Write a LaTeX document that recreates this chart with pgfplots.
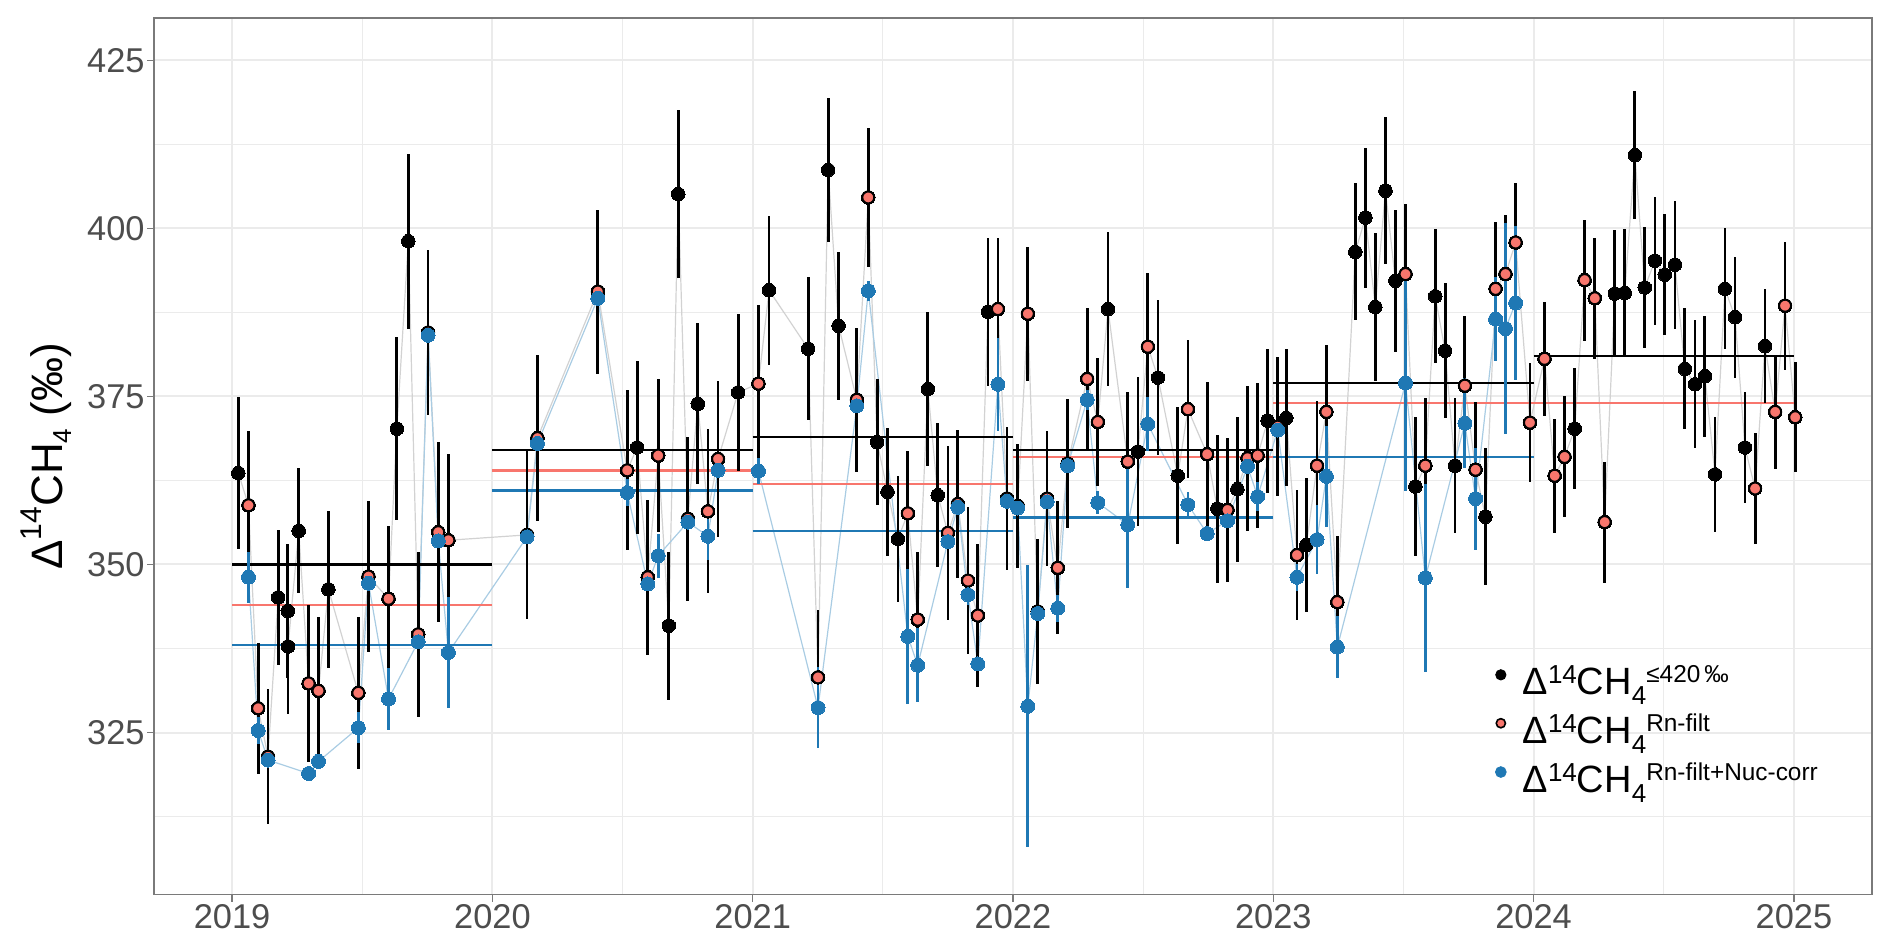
\documentclass[border=0pt]{standalone}
\usepackage{fontspec}
\setmainfont{Liberation Sans}
\usepackage{pgfplots}
\pgfplotsset{compat=1.18}
\usepackage{pgfplotstable}

\definecolor{rnred}{HTML}{F8766D}
\definecolor{nucblue}{HTML}{1F78B4}
\definecolor{nucline}{HTML}{A9CCE3}
\definecolor{conn}{HTML}{D2D2D2}
\definecolor{gridc}{HTML}{EBEBEB}
\definecolor{tickc}{HTML}{4D4D4D}
\definecolor{framec}{HTML}{7A7A7A}

\newcommand{\lgbase}{Δ\raisebox{5.5bp}{\fontsize{13bp}{13bp}\selectfont 14}CH\raisebox{-5bp}{\fontsize{13bp}{13bp}\selectfont 4}}
\newcommand{\lgsup}[1]{\raisebox{6bp}{\fontsize{12.2bp}{12.2bp}\selectfont #1}}

\pgfplotstableread{
x y e
2019.024 363.6 11.3
2019.063 358.8 11.1
2019.100 328.6 9.7
2019.138 321.4 10.0
2019.177 345.1 10.0
2019.214 343.1 10.0
2019.215 337.8 10.0
2019.256 355.0 9.3
2019.294 332.3 11.7
2019.332 331.2 11.0
2019.370 346.3 11.7
2019.485 330.9 11.3
2019.524 348.2 11.2
2019.601 344.9 10.8
2019.633 370.2 13.6
2019.677 398.1 13.0
2019.715 339.6 12.3
2019.753 384.5 12.3
2019.792 354.8 13.4
2019.831 353.6 12.9
2020.133 354.4 12.5
2020.173 368.8 12.3
2020.405 390.6 12.2
2020.518 364.0 11.9
2020.556 367.4 12.9
2020.597 348.1 11.5
2020.637 366.2 11.4
2020.678 340.9 11.0
2020.714 405.1 12.5
2020.751 356.8 12.2
2020.789 373.9 12.0
2020.828 357.9 12.2
2020.867 365.7 11.6
2020.944 375.6 11.7
2021.022 376.9 11.7
2021.063 390.8 11.1
2021.213 382.1 10.6
2021.251 333.2 10.0
2021.290 408.7 10.7
2021.330 385.5 11.0
2021.400 374.5 10.7
2021.444 404.6 10.3
2021.478 368.2 9.4
2021.518 360.8 9.5
2021.558 353.8 9.4
2021.596 357.6 9.3
2021.634 341.8 10.0
2021.673 376.1 11.4
2021.711 360.3 10.7
2021.750 354.7 12.9
2021.788 359.0 11.0
2021.827 347.6 10.9
2021.865 342.4 10.7
2021.904 387.6 11.0
2021.942 388.0 10.5
2021.977 359.8 10.6
2022.018 358.7 9.2
2022.057 387.3 10.0
2022.095 343.0 10.8
2022.131 359.8 10.0
2022.172 349.5 9.9
2022.210 365.0 9.6
2022.285 377.6 10.5
2022.326 371.2 9.5
2022.365 388.0 11.5
2022.441 365.3 10.3
2022.480 366.8 11.1
2022.518 382.4 11.0
2022.557 377.8 11.5
2022.633 363.2 10.2
2022.672 373.1 10.3
2022.746 366.4 10.8
2022.785 358.3 11.0
2022.824 358.1 10.7
2022.862 361.2 10.8
2022.901 365.8 10.8
2022.940 366.2 10.8
2022.978 371.4 10.7
2023.017 370.5 10.3
2023.050 371.8 10.2
2023.091 351.4 9.7
2023.127 352.9 10.0
2023.168 364.7 9.6
2023.204 372.7 10.0
2023.246 344.4 9.8
2023.315 396.5 10.2
2023.354 401.6 10.4
2023.392 388.3 11.0
2023.431 405.6 10.9
2023.469 392.2 10.6
2023.508 393.2 10.5
2023.546 361.6 10.3
2023.584 364.7 10.0
2023.622 389.9 10.0
2023.660 381.8 10.0
2023.698 364.7 10.0
2023.736 376.6 10.3
2023.777 364.1 10.0
2023.815 357.1 10.2
2023.854 391.0 9.9
2023.892 393.2 8.8
2023.931 397.9 8.8
2023.986 371.1 8.9
2024.042 380.6 8.5
2024.081 363.2 8.5
2024.119 366.0 9.0
2024.158 370.2 9.0
2024.196 392.3 9.0
2024.235 389.6 9.0
2024.273 356.3 9.0
2024.312 390.3 9.5
2024.350 390.4 9.5
2024.389 410.9 9.5
2024.427 391.2 9.0
2024.466 395.2 9.5
2024.504 393.1 9.0
2024.543 394.6 9.5
2024.581 379.1 9.0
2024.620 376.8 9.5
2024.658 378.0 9.0
2024.697 363.4 8.5
2024.735 391.0 9.0
2024.774 386.8 9.0
2024.812 367.4 8.3
2024.851 361.3 8.2
2024.889 382.5 8.5
2024.928 372.7 8.5
2024.966 388.5 9.5
2025.005 371.9 8.2
}\alltab

\pgfplotstableread{
x y
2019.063 358.8
2019.100 328.6
2019.138 321.4
2019.294 332.3
2019.332 331.2
2019.485 330.9
2019.524 348.2
2019.601 344.9
2019.715 339.6
2019.753 384.5
2019.792 354.8
2019.831 353.6
2020.133 354.4
2020.173 368.8
2020.405 390.6
2020.518 364.0
2020.597 348.1
2020.637 366.2
2020.751 356.8
2020.828 357.9
2020.867 365.7
2021.022 376.9
2021.251 333.2
2021.400 374.5
2021.444 404.6
2021.596 357.6
2021.634 341.8
2021.750 354.7
2021.788 359.0
2021.827 347.6
2021.865 342.4
2021.942 388.0
2021.977 359.8
2022.018 358.7
2022.057 387.3
2022.095 343.0
2022.131 359.8
2022.172 349.5
2022.210 365.0
2022.285 377.6
2022.326 371.2
2022.441 365.3
2022.518 382.4
2022.672 373.1
2022.746 366.4
2022.824 358.1
2022.901 365.8
2022.940 366.2
2023.017 370.5
2023.091 351.4
2023.168 364.7
2023.204 372.7
2023.246 344.4
2023.508 393.2
2023.584 364.7
2023.736 376.6
2023.777 364.1
2023.854 391.0
2023.892 393.2
2023.931 397.9
2023.986 371.1
2024.042 380.6
2024.081 363.2
2024.119 366.0
2024.196 392.3
2024.235 389.6
2024.273 356.3
2024.851 361.3
2024.928 372.7
2024.966 388.5
2025.005 371.9
}\rntab

\pgfplotstableread{
x y e
2019.063 348.1 3.8
2019.100 325.3 2.0
2019.138 320.9 1.0
2019.294 318.9 1.0
2019.332 320.7 1.0
2019.485 325.7 2.3
2019.524 347.2 1.0
2019.601 330.0 4.6
2019.715 338.5 1.0
2019.753 384.1 1.0
2019.792 353.5 1.0
2019.831 336.9 8.2
2020.133 354.1 1.0
2020.173 368.0 1.0
2020.405 389.6 1.0
2020.518 360.7 2.0
2020.597 347.1 1.0
2020.637 351.3 3.3
2020.751 356.3 1.0
2020.828 354.2 3.5
2020.867 364.0 1.0
2021.022 363.9 2.0
2021.251 328.7 6.0
2021.400 373.6 1.0
2021.444 390.7 1.5
2021.596 339.3 10.0
2021.634 335.0 5.5
2021.750 353.4 1.0
2021.788 358.5 1.0
2021.827 345.5 1.5
2021.865 335.2 1.0
2021.942 376.8 6.9
2021.977 359.4 1.0
2022.018 358.4 1.0
2022.057 328.9 21.0
2022.095 342.7 1.0
2022.131 359.3 1.0
2022.172 343.5 2.0
2022.210 364.7 1.0
2022.285 374.5 1.5
2022.326 359.2 1.7
2022.441 355.9 9.4
2022.518 370.9 4.0
2022.672 358.9 1.9
2022.746 354.6 1.0
2022.824 356.5 1.0
2022.901 364.6 1.0
2022.940 360.1 2.2
2023.017 370.0 1.0
2023.091 348.1 2.0
2023.168 353.7 5.1
2023.204 363.1 7.5
2023.246 337.7 4.6
2023.508 377.0 16.0
2023.584 348.0 14.0
2023.736 371.0 6.7
2023.777 359.8 7.6
2023.854 386.5 6.3
2023.892 385.1 15.7
2023.931 388.9 11.4
}\nuctab

\begin{document}
\begin{tikzpicture}
\useasboundingbox (-77bp,-27.25bp) rectangle (869bp,447.25bp);
\begin{axis}[
  at={(0,0)}, anchor=south west,
  scale only axis, width=859bp, height=438.25bp,
  xmin=2018.7, xmax=2025.3, ymin=300.9, ymax=431.3,
  xtick={2019,2020,2021,2022,2023,2024,2025},
  xticklabels={2019,2020,2021,2022,2023,2024,2025},
  ytick={325,350,375,400,425},
  yticklabels={325,350,375,400,425},
  minor xtick={2019.5,2020.5,2021.5,2022.5,2023.5,2024.5},
  minor ytick={312.5,337.5,362.5,387.5,412.5},
  grid=both,
  major grid style={draw=gridc, line width=1bp},
  minor grid style={draw=gridc, line width=0.5bp},
  axis line style={draw=framec, line width=0.8bp},
  tick pos=left, tick align=outside,
  major tick length=3.5bp, minor tick length=0pt,
  every tick/.style={draw=framec, line width=0.8bp},
  x tick label style={font=\fontsize{17.2bp}{20bp}\selectfont, text=tickc, inner sep=0pt, anchor=north, yshift=-1.4bp},
  y tick label style={font=\fontsize{17.2bp}{20bp}\selectfont, text=tickc, inner sep=0pt, anchor=east, xshift=-1bp},
  every axis y label/.style={at={(axis description cs:-0.078,0.5)}, rotate=90, anchor=north, inner sep=0pt, font=\fontsize{22bp}{26bp}\selectfont},
  ylabel={Δ\raisebox{10.8bp}{\fontsize{15bp}{15bp}\selectfont 14}CH\raisebox{-4.2bp}{\fontsize{13bp}{13bp}\selectfont 4} (‰)},
  legend style={at={(axis description cs:0.7806,0.257)}, anchor=north west, draw=none, fill=none, inner sep=0pt, outer sep=0pt, row sep=6bp, column sep=8bp, nodes={inner sep=0pt, text height=12.5bp, text depth=5.5bp}, font=\fontsize{19bp}{22bp}\selectfont},
  legend cell align=left,
]
% connecting lines
\addplot[forget plot, draw=conn, line width=0.6bp, mark=none] table[x=x,y=y]{\alltab};
\addplot[forget plot, draw=nucline, line width=0.6bp, mark=none] table[x=x,y=y]{\nuctab};
% yearly means
\addplot[forget plot, black, line width=1.2bp] coordinates {(2019,350) (2020,350)};
\addplot[forget plot, black, line width=1.2bp] coordinates {(2020,367) (2021,367)};
\addplot[forget plot, black, line width=1.2bp] coordinates {(2021,369) (2022,369)};
\addplot[forget plot, black, line width=1.2bp] coordinates {(2022,367) (2023,367)};
\addplot[forget plot, black, line width=1.2bp] coordinates {(2023,377) (2024,377)};
\addplot[forget plot, black, line width=1.2bp] coordinates {(2024,381) (2025,381)};
\addplot[forget plot, rnred, line width=1.2bp] coordinates {(2019,344) (2020,344)};
\addplot[forget plot, rnred, line width=1.2bp] coordinates {(2020,364) (2021,364)};
\addplot[forget plot, rnred, line width=1.2bp] coordinates {(2021,362) (2022,362)};
\addplot[forget plot, rnred, line width=1.2bp] coordinates {(2022,366) (2023,366)};
\addplot[forget plot, rnred, line width=1.2bp] coordinates {(2023,374) (2024,374)};
\addplot[forget plot, rnred, line width=1.2bp] coordinates {(2024,374) (2025,374)};
\addplot[forget plot, nucblue, line width=1.2bp] coordinates {(2019,338) (2020,338)};
\addplot[forget plot, nucblue, line width=1.2bp] coordinates {(2020,361) (2021,361)};
\addplot[forget plot, nucblue, line width=1.2bp] coordinates {(2021,355) (2022,355)};
\addplot[forget plot, nucblue, line width=1.2bp] coordinates {(2022,357) (2023,357)};
\addplot[forget plot, nucblue, line width=1.2bp] coordinates {(2023,366) (2024,366)};
% error bars
\addplot[forget plot, only marks, mark=none,
  error bars/.cd, y dir=both, y explicit, error mark=none,
  error bar style={draw=black, solid, line width=1.4bp}]
  table[x=x,y=y,y error=e]{\alltab};
\addplot[forget plot, only marks, mark=none,
  error bars/.cd, y dir=both, y explicit, error mark=none,
  error bar style={draw=nucblue, solid, line width=1.4bp}]
  table[x=x,y=y,y error=e]{\nuctab};
% points
\addplot[forget plot, only marks, mark=*, mark size=3.4bp, mark options={fill=black, draw=black, line width=0pt}] table[x=x,y=y]{\alltab};
\addplot[forget plot, only marks, mark=*, mark size=3.0bp, mark options={fill=rnred, draw=black, line width=1bp}] table[x=x,y=y]{\rntab};
\addplot[forget plot, only marks, mark=*, mark size=3.5bp, mark options={fill=nucblue, draw=nucblue, line width=0pt}] table[x=x,y=y]{\nuctab};
% legend
\addlegendimage{legend image code/.code={\fill[black] (0bp,6.5bp) circle (2.6bp);}}
\addlegendentry{\lgbase\lgsup{≤420\,‰}}
\addlegendimage{legend image code/.code={\filldraw[fill=rnred, draw=black, line width=0.8bp] (0bp,6.5bp) circle (2.3bp);}}
\addlegendentry{\lgbase\lgsup{Rn-filt}}
\addlegendimage{legend image code/.code={\fill[nucblue] (0bp,6.5bp) circle (2.7bp);}}
\addlegendentry{\lgbase\lgsup{Rn-filt+Nuc-corr}}
\end{axis}
\end{tikzpicture}
\end{document}
